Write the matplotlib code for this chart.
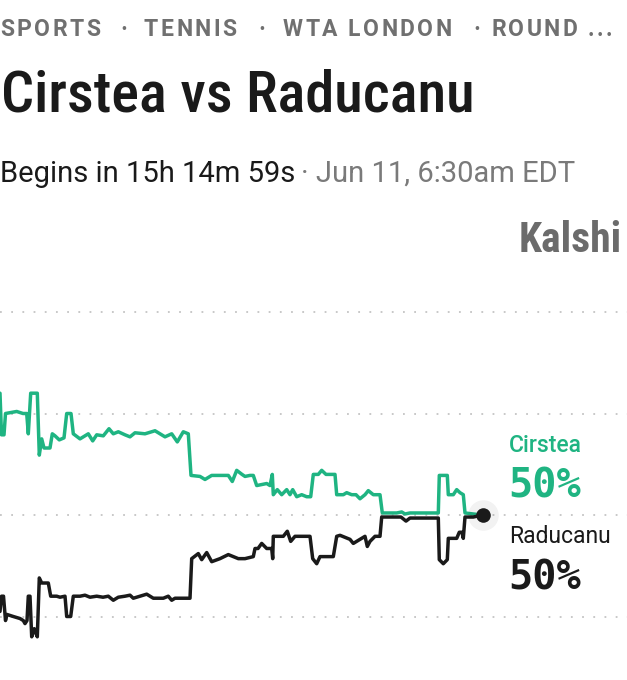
import os
import matplotlib
matplotlib.use('Agg')
import matplotlib.pyplot as plt
from matplotlib import font_manager as fm

# price history (time steps, chance in %)
cirstea_t = [0, 1.5, 4, 5.5, 16.7, 23, 26.7, 28.3, 30.7, 37.3, 39.3, 41.7, 44, 50,
             52.3, 55, 59.3, 64, 66.7, 71, 73.3, 80, 88.3, 92.7, 96.7, 103.3, 109,
             113.3, 118.3, 125, 130, 135, 145, 155, 165, 171.7, 177.3, 183.3, 188.3,
             191, 200, 205, 211.7, 228.3, 232.3, 236.7, 242, 245, 250, 253.3, 256.7,
             266.7, 270, 272.3, 273.3, 277.3, 281.7, 286.7, 290, 292.7, 296.7, 301.7,
             306.7, 310.7, 313.3, 318.3, 321.7, 326, 335, 336.7, 343.3, 346.7, 351.7,
             356, 360, 365, 368.3, 373.3, 380, 382.3, 396.7, 401.7, 405, 410, 438.3,
             439.3, 447.3, 448.3, 453.3, 456.7, 460, 463.3, 465, 473.3, 482.7]
cirstea_p = [62.0, 57.9, 57.9, 60.0, 60.2, 60.0, 60.0, 58.0, 62.0, 62.0, 55.9, 57.5, 56.6, 56.6,
             58.0, 57.8, 57.4, 57.6, 60.0, 60.0, 58.0, 57.5, 58.0, 57.3, 57.9, 57.8, 58.5,
             58.0, 58.2, 57.9, 57.7, 58.1, 58.0, 58.3, 57.7, 58.0, 57.2, 58.2, 58.0,
             53.9, 53.8, 53.5, 53.9, 53.9, 53.3, 54.4, 54.0, 53.8, 53.9, 53.9, 52.9,
             53.1, 52.9, 54.0, 52.0, 52.5, 52.0, 52.5, 52.0, 52.5, 51.8, 52.0,
             51.8, 51.8, 54.0, 54.0, 54.4, 54.0, 54.0, 52.0, 52.0, 52.2, 52.0,
             52.0, 51.6, 52.0, 52.4, 52.0, 52.0, 50.2, 50.2, 50.3, 50.1, 50.2, 50.2,
             53.9, 53.9, 52.0, 52.0, 52.5, 52.2, 52.0, 50.2, 50.1, 50.0]

raducanu_t = [0, 1.5, 3.5, 5.5, 7, 13.3, 20, 23.3, 25, 27, 28.3, 30, 31.7, 34.3, 37.3,
              39.3, 41.7, 48.3, 50.7, 56.7, 60, 65, 66.7, 70.7, 73.3, 80, 85, 90, 96.7,
              103, 108.3, 113.3, 118.3, 125, 130, 133.3, 140, 146.7, 153.3, 163.3,
              168.3, 171.7, 175, 190, 191.7, 198.3, 201.7, 206.7, 211.7, 220, 228.3,
              233.3, 238.3, 245, 253.3, 255, 258, 261.7, 266.7, 271.7, 272.7, 273.3,
              283.3, 287.3, 290.7, 295, 310, 312.7, 316.7, 320, 333.3, 336.7, 340, 345,
              350, 353.3, 358.3, 365, 367.3, 370, 375, 380, 381.7, 396.7, 401, 406, 410,
              438.3, 439.3, 443.3, 447.3, 448.3, 456.7, 459.3, 462, 463.3, 465, 473.3,
              482.7]
raducanu_p = [40.5, 42.0, 42.0, 39.6, 40.2, 40.0, 39.8, 39.6, 39.3, 39.6, 42.0, 42.0, 38.0, 38.8, 38.0,
              43.8, 43.3, 43.3, 42.0, 42.0, 41.9, 42.0, 40.0, 40.0, 42.0, 42.0, 42.1, 41.9, 42.0,
              41.9, 42.0, 41.6, 41.9, 42.0, 42.1, 41.8, 42.0, 42.2, 41.8, 41.8,
              42.0, 41.6, 41.8, 41.8, 45.7, 46.2, 45.6, 46.3, 45.4, 45.7, 46.1,
              45.9, 45.7, 45.7, 45.9, 46.7, 46.7, 47.2, 46.7, 46.7, 45.7, 47.9,
              47.9, 48.4, 47.4, 47.9, 47.9, 45.7, 45.2, 45.9, 45.9, 47.9, 48.0, 47.8,
              47.6, 47.2, 47.5, 47.9, 46.9, 47.4, 47.9, 47.9, 49.8, 49.8, 49.8, 49.4, 49.7,
              49.7, 45.6, 45.2, 45.6, 47.7, 47.7, 48.3, 48.3, 47.7, 49.8, 49.8,
              50.0]

grid_levels = [40, 50, 60, 70]

players = ['Cirstea', 'Raducanu']
current = ['50%', '50%']
crumbs = ['SPORTS', '\u00b7', 'TENNIS', '\u00b7', 'WTA LONDON', '\u00b7', 'ROUND ...']
crumb_x = [0, 120, 144, 258, 283, 473, 491]

GREEN = '#1fb482'
INK = '#1a1a1a'
GREY = '#707070'

W, H = 627, 680
fig = plt.figure(figsize=(W / 100, H / 100), dpi=100)
renderer = fig.canvas.get_renderer()


def fx(x):
    return x / W


def fy(y):
    return 1 - y / H


def narrow(wanted):
    # look for a condensed face that is installed
    files = {os.path.basename(f.fname).lower(): f.fname for f in fm.fontManager.ttflist}
    for w in wanted:
        for name, path in files.items():
            if name.startswith(w):
                return fm.FontProperties(fname=path)
    return fm.FontProperties(family='DejaVu Sans', weight='bold')


BOLD_NARROW = ['robotocondensed-bold.', 'notosans-condensedbold.', 'liberationsansnarrow-bold.',
               'dejavusanscondensed-bold.', 'opensans-condensedbold.']
MEDIUM_NARROW = ['robotocondensed-medium.', 'notosans-condensedmedium.',
                 'notosans-condensedsemibold.'] + BOLD_NARROW


def fit(t, width):
    w = t.get_window_extent(renderer).width
    t.set_fontsize(t.get_fontsize() * width / w)


def spaced(x, y, s, gap, **kw):
    # draw text char by char to get the letter spacing
    for ch in s:
        if ch == ' ':
            x += kw['fontsize'] * 1.389 * 0.25 + gap
            continue
        t = fig.text(fx(x), fy(y), ch, va='baseline', ha='left', **kw)
        bb = t.get_window_extent(renderer)
        x += bb.width + gap


# chart area
ax = fig.add_axes([0, fy(650), 1, 360 / H])
ax.set_xlim(0, W)
ax.set_ylim(50 - 135 / 10.15, 50 + 225 / 10.15)
ax.axis('off')

for g in grid_levels:
    ax.axhline(g, color='#c4c4c4', lw=1.3, ls=(0, (1, 5.2)), zorder=1)

ax.plot(cirstea_t, cirstea_p, color=GREEN, lw=2.5, solid_joinstyle='round',
        solid_capstyle='round', zorder=3)
ax.plot(raducanu_t, raducanu_p, color=INK, lw=2.5, solid_joinstyle='round',
        solid_capstyle='round', zorder=4)
ax.plot(raducanu_t[-1], raducanu_p[-1], 'o', ms=22, color='#000000', alpha=0.05,
        mec='none', zorder=5)
ax.plot(raducanu_t[-1], raducanu_p[-1], 'o', ms=10.5, color=INK, mec='none', zorder=6)

# header
for s, x in zip(crumbs, crumb_x):
    spaced(x, 36.5, s, 2.4, fontsize=16.5, family=['Roboto', 'DejaVu Sans'],
           weight='bold', color=GREY)

title = fig.text(fx(1), fy(112), 'Cirstea vs Raducanu', fontproperties=narrow(MEDIUM_NARROW),
                 color=INK, va='baseline', ha='left')
title.set_fontsize(47)
fit(title, 473)

fig.text(fx(0), fy(182), 'Begins in 15h 14m 59s', fontsize=21,
         family=['Roboto', 'DejaVu Sans'], color=INK, va='baseline', ha='left')
fig.text(fx(301), fy(182), '\u00b7 Jun 11, 6:30am EDT', fontsize=21,
         family=['Roboto', 'DejaVu Sans'], color='#7a7a7a', va='baseline', ha='left')

brand = fig.text(fx(622), fy(252), 'Kalshi', fontproperties=narrow(BOLD_NARROW),
                 color='#6b6b6b', va='baseline', ha='right')
brand.set_fontsize(27)
fit(brand, 103)

# side labels
fig.text(fx(509), fy(452), players[0], fontsize=16.5, family=['Roboto', 'DejaVu Sans'],
         weight='medium', color=GREEN, va='baseline', ha='left')
fig.text(fx(508), fy(498), current[0], fontsize=29, family=['DejaVu Sans Mono'],
         weight='bold', color=GREEN, va='baseline', ha='left')
fig.text(fx(509), fy(543), players[1], fontsize=16.5, family=['Roboto', 'DejaVu Sans'],
         color=INK, va='baseline', ha='left')
fig.text(fx(508), fy(590), current[1], fontsize=29, family=['DejaVu Sans Mono'],
         weight='bold', color=INK, va='baseline', ha='left')

fig.savefig('out.png', dpi=100, facecolor='white')
